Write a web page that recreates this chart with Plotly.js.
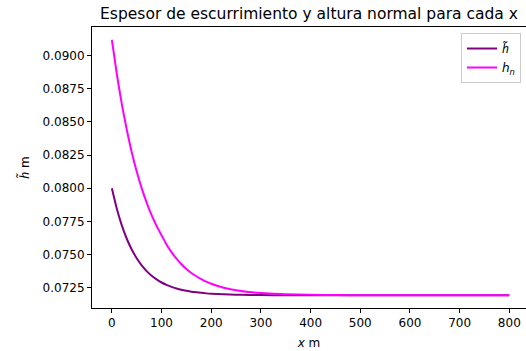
<!DOCTYPE html>
<html>
<head>
<meta charset="utf-8">
<script src="https://cdn.plot.ly/plotly-3.0.1.min.js"></script>
<style>html,body{margin:0;padding:0;background:#fff;}#chart{width:526px;height:351px;}</style>
</head>
<body>
<div id="chart"></div>
<script>
const xValues = [0,10,20,30,40,50,60,70,80,90,100,110,120,130,140,150,160,170,180,190,200,225,250,275,300,350,400,450,500,600,700,800];
const hTilde = [0.08000,0.07845,0.07720,0.07619,0.07538,0.07472,0.07418,0.07375,0.07340,0.07312,0.07289,0.07271,0.07256,0.07244,0.07234,0.07226,0.07220,0.07215,0.07211,0.07207,0.07204,0.07200,0.07197,0.07195,0.07194,0.07193,0.07193,0.07193,0.07193,0.07193,0.07193,0.07193];
const hNormal = [0.09120,0.08860,0.08635,0.08441,0.08272,0.08127,0.08001,0.07892,0.07797,0.07716,0.07645,0.07576,0.07518,0.07469,0.07427,0.07391,0.07361,0.07336,0.07314,0.07295,0.07280,0.07250,0.07230,0.07217,0.07209,0.07200,0.07196,0.07194,0.07193,0.07193,0.07193,0.07193];
const xTicks = [0,100,200,300,400,500,600,700,800];
const yTicks = [0.0725,0.0750,0.0775,0.0800,0.0825,0.0850,0.0875,0.0900];
const yTickLabels = ["0.0725","0.0750","0.0775","0.0800","0.0825","0.0850","0.0875","0.0900"];
const hT = "<span style='font-family:Noto Sans'><i>h\u0303</i></span>";
const seriesNames = [hT, "<i>h</i><sub><i>n</i></sub>"];
const titleText = "Espesor de escurrimiento y altura normal para cada x";

const font = "DejaVu Sans, sans-serif";
const traces = [
  {x: xValues, y: hTilde, name: seriesNames[0], type: "scatter", mode: "lines",
   line: {color: "#800080", width: 2, shape: "spline", smoothing: 0.6}},
  {x: xValues, y: hNormal, name: seriesNames[1], type: "scatter", mode: "lines",
   line: {color: "#ff00ff", width: 2, shape: "spline", smoothing: 0.6}}
];
const layout = {
  width: 526, height: 351,
  margin: {l: 92, r: 0, t: 27, b: 43, pad: 0},
  paper_bgcolor: "#fff", plot_bgcolor: "#fff",
  font: {family: font, size: 12, color: "#000"},
  title: {text: titleText, font: {family: font, size: 15.5, color: "#000"},
          xref: "paper", x: 0.5, xanchor: "center", yref: "container", y: 0.96, yanchor: "middle"},
  xaxis: {range: [-40, 833.6], tickvals: xTicks, ticks: "outside", ticklen: 4, tickwidth: 1, tickcolor: "#000",
          showline: true, linecolor: "#000", linewidth: 1, mirror: true, showgrid: false, zeroline: false,
          tickfont: {size: 12}, title: {text: "<i>x</i> m", font: {size: 12}, standoff: 9}},
  yaxis: {range: [0.070966, 0.092164], tickvals: yTicks, ticktext: yTickLabels, ticks: "outside", ticklen: 4, tickwidth: 1,
          tickcolor: "#000", showline: true, linecolor: "#000", linewidth: 1, mirror: false, showgrid: false, zeroline: false,
          tickfont: {size: 12}, title: {text: hT + " m", font: {size: 12}, standoff: 10}},
  showlegend: true,
  legend: {x: 0.9885, xanchor: "right", y: 0.9786, yanchor: "top", bgcolor: "rgba(255,255,255,0.8)",
           bordercolor: "#cccccc", borderwidth: 1, font: {size: 12}, itemwidth: 30, tracegroupgap: 0}
};
Plotly.newPlot("chart", traces, layout, {displayModeBar: false, staticPlot: true});
</script>
</body>
</html>
